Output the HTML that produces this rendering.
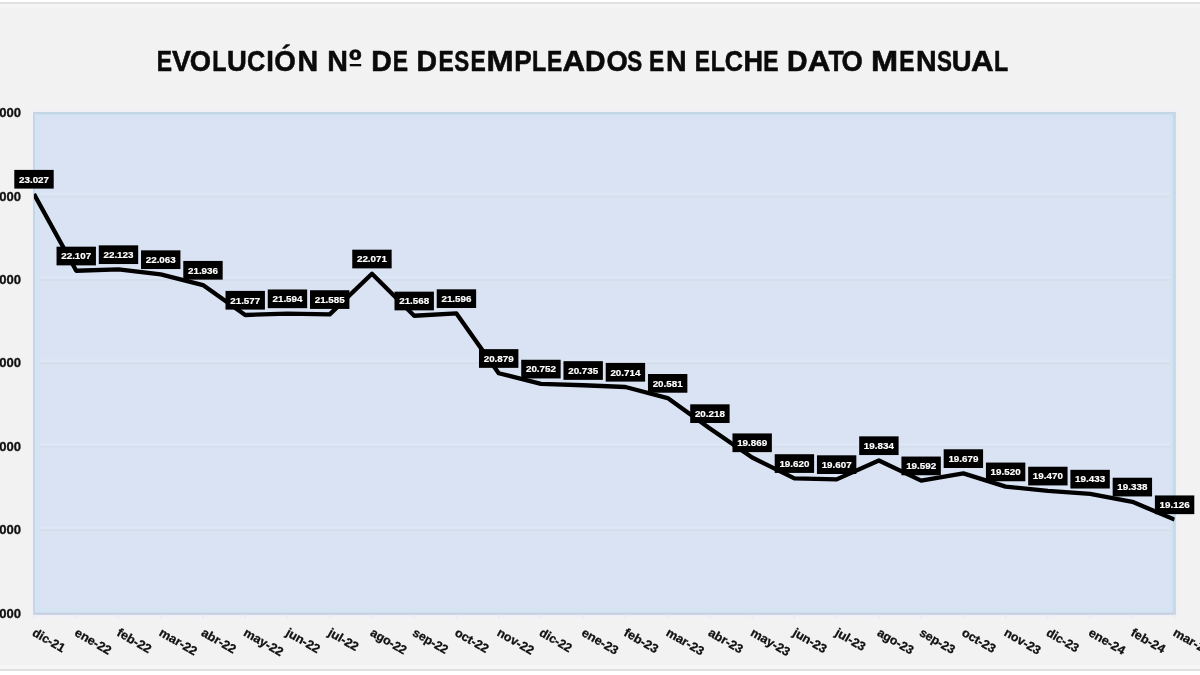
<!DOCTYPE html>
<html lang="es"><head><meta charset="utf-8"><title>Evolución nº de desempleados en Elche</title>
<style>
html,body{margin:0;padding:0;background:#fff;}
body{width:1200px;height:675px;overflow:hidden;font-family:"Liberation Sans",sans-serif;}
svg{display:block}
text{font-family:"Liberation Sans",sans-serif;font-weight:bold}
.t{font-size:30.3px;fill:#0a0a0a;stroke:#0a0a0a;stroke-width:0.6px}
.y{font-size:12.3px;fill:#111;stroke:#111;stroke-width:0.3px}
.x{font-size:12.2px;fill:#111;stroke:#111;stroke-width:0.3px}
.d{font-size:9.8px;fill:#fff;stroke:#fff;stroke-width:0.2px}
</style></head><body>
<svg width="1200" height="675" viewBox="0 0 1200 675" role="img" aria-labelledby="chart-title">
<title id="chart-title">EVOLUCIÓN Nº DE DESEMPLEADOS EN ELCHE DATO MENSUAL</title>
<rect x="0" y="0" width="1200" height="675" fill="#ffffff"/>
<rect x="0" y="2" width="1200" height="669" fill="#f2f2f2"/>
<rect x="0" y="2" width="1200" height="2" fill="#e1e1e1"/>
<rect x="0" y="4" width="1200" height="2" fill="#f6f6f6"/>
<rect x="0" y="6" width="1200" height="2" fill="#f4f4f4"/>
<rect x="0" y="665" width="1200" height="4" fill="#f6f6f6"/>
<rect x="0" y="669" width="1200" height="2" fill="#dfdfdf"/>

<rect x="31" y="109.5" width="1147" height="507.5" fill="#eff1f7"/>
<rect x="33" y="112" width="1142.8" height="502.8" fill="#dae3f3"/>
<rect x="33" y="114.2" width="1142.8" height="3.2" fill="#d5e4f3"/>
<rect x="33" y="608.2" width="1142.8" height="4.6" fill="#d4e4f3"/>
<rect x="35" y="112" width="4.6" height="502.8" fill="#d5e3f3"/>
<rect x="1169.8" y="112" width="3.2" height="502.8" fill="#d3e3f2"/>
<rect x="33" y="112" width="1142.8" height="2.4" fill="#c4d6e5"/>
<rect x="33" y="612.6" width="1142.8" height="2.2" fill="#c9d0e1"/>
<rect x="33" y="112" width="2" height="502.8" fill="#c5d6e8"/>
<rect x="1172.9" y="112" width="2.9" height="502.8" fill="#c6d9e6"/>
<rect x="39.6" y="526.45" width="1130.2" height="3" fill="#dde6f5"/>
<rect x="39.6" y="530.95" width="1130.2" height="6" fill="#d9e3f1"/>
<rect x="39.6" y="529.35" width="1130.2" height="1.6" fill="#d3ddec"/>
<rect x="39.6" y="443.00" width="1130.2" height="3" fill="#dde6f5"/>
<rect x="39.6" y="447.50" width="1130.2" height="6" fill="#d9e3f1"/>
<rect x="39.6" y="445.90" width="1130.2" height="1.6" fill="#d3ddec"/>
<rect x="39.6" y="359.55" width="1130.2" height="3" fill="#dde6f5"/>
<rect x="39.6" y="364.05" width="1130.2" height="6" fill="#d9e3f1"/>
<rect x="39.6" y="362.45" width="1130.2" height="1.6" fill="#d3ddec"/>
<rect x="39.6" y="276.10" width="1130.2" height="3" fill="#dde6f5"/>
<rect x="39.6" y="280.60" width="1130.2" height="6" fill="#d9e3f1"/>
<rect x="39.6" y="279.00" width="1130.2" height="1.6" fill="#d3ddec"/>
<rect x="39.6" y="192.65" width="1130.2" height="3" fill="#dde6f5"/>
<rect x="39.6" y="197.15" width="1130.2" height="6" fill="#d9e3f1"/>
<rect x="39.6" y="195.55" width="1130.2" height="1.6" fill="#d3ddec"/>
<line x1="34.00" x2="34.00" y1="614.5" y2="618.5" stroke="#e6eaf0" stroke-width="1.3"/>
<line x1="76.24" x2="76.24" y1="614.5" y2="618.5" stroke="#e6eaf0" stroke-width="1.3"/>
<line x1="118.49" x2="118.49" y1="614.5" y2="618.5" stroke="#e6eaf0" stroke-width="1.3"/>
<line x1="160.73" x2="160.73" y1="614.5" y2="618.5" stroke="#e6eaf0" stroke-width="1.3"/>
<line x1="202.98" x2="202.98" y1="614.5" y2="618.5" stroke="#e6eaf0" stroke-width="1.3"/>
<line x1="245.22" x2="245.22" y1="614.5" y2="618.5" stroke="#e6eaf0" stroke-width="1.3"/>
<line x1="287.47" x2="287.47" y1="614.5" y2="618.5" stroke="#e6eaf0" stroke-width="1.3"/>
<line x1="329.71" x2="329.71" y1="614.5" y2="618.5" stroke="#e6eaf0" stroke-width="1.3"/>
<line x1="371.96" x2="371.96" y1="614.5" y2="618.5" stroke="#e6eaf0" stroke-width="1.3"/>
<line x1="414.20" x2="414.20" y1="614.5" y2="618.5" stroke="#e6eaf0" stroke-width="1.3"/>
<line x1="456.44" x2="456.44" y1="614.5" y2="618.5" stroke="#e6eaf0" stroke-width="1.3"/>
<line x1="498.69" x2="498.69" y1="614.5" y2="618.5" stroke="#e6eaf0" stroke-width="1.3"/>
<line x1="540.93" x2="540.93" y1="614.5" y2="618.5" stroke="#e6eaf0" stroke-width="1.3"/>
<line x1="583.18" x2="583.18" y1="614.5" y2="618.5" stroke="#e6eaf0" stroke-width="1.3"/>
<line x1="625.42" x2="625.42" y1="614.5" y2="618.5" stroke="#e6eaf0" stroke-width="1.3"/>
<line x1="667.67" x2="667.67" y1="614.5" y2="618.5" stroke="#e6eaf0" stroke-width="1.3"/>
<line x1="709.91" x2="709.91" y1="614.5" y2="618.5" stroke="#e6eaf0" stroke-width="1.3"/>
<line x1="752.16" x2="752.16" y1="614.5" y2="618.5" stroke="#e6eaf0" stroke-width="1.3"/>
<line x1="794.40" x2="794.40" y1="614.5" y2="618.5" stroke="#e6eaf0" stroke-width="1.3"/>
<line x1="836.64" x2="836.64" y1="614.5" y2="618.5" stroke="#e6eaf0" stroke-width="1.3"/>
<line x1="878.89" x2="878.89" y1="614.5" y2="618.5" stroke="#e6eaf0" stroke-width="1.3"/>
<line x1="921.13" x2="921.13" y1="614.5" y2="618.5" stroke="#e6eaf0" stroke-width="1.3"/>
<line x1="963.38" x2="963.38" y1="614.5" y2="618.5" stroke="#e6eaf0" stroke-width="1.3"/>
<line x1="1005.62" x2="1005.62" y1="614.5" y2="618.5" stroke="#e6eaf0" stroke-width="1.3"/>
<line x1="1047.87" x2="1047.87" y1="614.5" y2="618.5" stroke="#e6eaf0" stroke-width="1.3"/>
<line x1="1090.11" x2="1090.11" y1="614.5" y2="618.5" stroke="#e6eaf0" stroke-width="1.3"/>
<line x1="1132.36" x2="1132.36" y1="614.5" y2="618.5" stroke="#e6eaf0" stroke-width="1.3"/>
<line x1="1174.60" x2="1174.60" y1="614.5" y2="618.5" stroke="#e6eaf0" stroke-width="1.3"/>
<text class="t" y="71.2" aria-label="EVOLUCIÓN Nº DE DESEMPLEADOS EN ELCHE DATO MENSUAL"><tspan x="156.68" textLength="15.27" lengthAdjust="spacingAndGlyphs">E</tspan><tspan x="171.92" textLength="18.86" lengthAdjust="spacingAndGlyphs">V</tspan><tspan x="189.75" textLength="21.26" lengthAdjust="spacingAndGlyphs">O</tspan><tspan x="212.32" textLength="14.22" lengthAdjust="spacingAndGlyphs">L</tspan><tspan x="227.08" textLength="19.82" lengthAdjust="spacingAndGlyphs">U</tspan><tspan x="247.04" textLength="18.27" lengthAdjust="spacingAndGlyphs">C</tspan><tspan x="266.2" textLength="7.62" lengthAdjust="spacingAndGlyphs">I</tspan><tspan x="274.27" textLength="21.53" lengthAdjust="spacingAndGlyphs">Ó</tspan><tspan x="297.56" textLength="20.66" lengthAdjust="spacingAndGlyphs">N</tspan> <tspan x="327.36" textLength="20.66" lengthAdjust="spacingAndGlyphs">N</tspan><tspan x="348.97" textLength="12.51" lengthAdjust="spacingAndGlyphs">º</tspan> <tspan x="371.35" textLength="20.53" lengthAdjust="spacingAndGlyphs">D</tspan><tspan x="392.73" textLength="15.27" lengthAdjust="spacingAndGlyphs">E</tspan> <tspan x="416.5" textLength="20.53" lengthAdjust="spacingAndGlyphs">D</tspan><tspan x="438.53" textLength="15.27" lengthAdjust="spacingAndGlyphs">E</tspan><tspan x="454.35" textLength="14.93" lengthAdjust="spacingAndGlyphs">S</tspan><tspan x="470.38" textLength="15.27" lengthAdjust="spacingAndGlyphs">E</tspan><tspan x="486.4" textLength="27.13" lengthAdjust="spacingAndGlyphs">M</tspan><tspan x="514.22" textLength="17.41" lengthAdjust="spacingAndGlyphs">P</tspan><tspan x="532.12" textLength="14.22" lengthAdjust="spacingAndGlyphs">L</tspan><tspan x="547.03" textLength="15.27" lengthAdjust="spacingAndGlyphs">E</tspan><tspan x="562.58" textLength="22.63" lengthAdjust="spacingAndGlyphs">A</tspan><tspan x="585.05" textLength="20.53" lengthAdjust="spacingAndGlyphs">D</tspan><tspan x="606.4" textLength="21.26" lengthAdjust="spacingAndGlyphs">O</tspan><tspan x="627.35" textLength="14.93" lengthAdjust="spacingAndGlyphs">S</tspan> <tspan x="649.03" textLength="15.27" lengthAdjust="spacingAndGlyphs">E</tspan><tspan x="666.01" textLength="20.66" lengthAdjust="spacingAndGlyphs">N</tspan> <tspan x="694.73" textLength="15.27" lengthAdjust="spacingAndGlyphs">E</tspan><tspan x="710.82" textLength="14.22" lengthAdjust="spacingAndGlyphs">L</tspan><tspan x="724.69" textLength="18.27" lengthAdjust="spacingAndGlyphs">C</tspan><tspan x="743.52" textLength="19.54" lengthAdjust="spacingAndGlyphs">H</tspan><tspan x="763.33" textLength="15.27" lengthAdjust="spacingAndGlyphs">E</tspan> <tspan x="787.05" textLength="20.53" lengthAdjust="spacingAndGlyphs">D</tspan><tspan x="807.73" textLength="22.63" lengthAdjust="spacingAndGlyphs">A</tspan><tspan x="828.6" textLength="15.11" lengthAdjust="spacingAndGlyphs">T</tspan><tspan x="841.4" textLength="21.26" lengthAdjust="spacingAndGlyphs">O</tspan> <tspan x="871.1" textLength="27.13" lengthAdjust="spacingAndGlyphs">M</tspan><tspan x="899.33" textLength="15.27" lengthAdjust="spacingAndGlyphs">E</tspan><tspan x="916.01" textLength="20.66" lengthAdjust="spacingAndGlyphs">N</tspan><tspan x="937.0" textLength="14.93" lengthAdjust="spacingAndGlyphs">S</tspan><tspan x="951.73" textLength="19.82" lengthAdjust="spacingAndGlyphs">U</tspan><tspan x="971.03" textLength="22.63" lengthAdjust="spacingAndGlyphs">A</tspan><tspan x="994.12" textLength="14.22" lengthAdjust="spacingAndGlyphs">L</tspan></text>
<rect x="349.8" y="64" width="11.4" height="2.3" fill="#0a0a0a"/>
<text class="y" x="21.1" y="617.80" text-anchor="end" textLength="40" lengthAdjust="spacingAndGlyphs">18.000</text>
<text class="y" x="21.1" y="534.35" text-anchor="end" textLength="40" lengthAdjust="spacingAndGlyphs">19.000</text>
<text class="y" x="21.1" y="450.90" text-anchor="end" textLength="40" lengthAdjust="spacingAndGlyphs">20.000</text>
<text class="y" x="21.1" y="367.45" text-anchor="end" textLength="40" lengthAdjust="spacingAndGlyphs">21.000</text>
<text class="y" x="21.1" y="284.00" text-anchor="end" textLength="40" lengthAdjust="spacingAndGlyphs">22.000</text>
<text class="y" x="21.1" y="200.55" text-anchor="end" textLength="40" lengthAdjust="spacingAndGlyphs">23.000</text>
<text class="y" x="21.1" y="117.10" text-anchor="end" textLength="40" lengthAdjust="spacingAndGlyphs">24.000</text>
<clipPath id="pc"><rect x="33.9" y="100" width="1140.8" height="530"/></clipPath>
<polyline clip-path="url(#pc)" points="34.00,194.00 76.24,270.77 118.49,269.44 160.73,274.44 202.98,285.04 245.22,315.00 287.47,313.58 329.71,314.33 371.96,273.78 414.20,315.75 456.44,313.41 498.69,373.25 540.93,383.85 583.18,385.26 625.42,387.02 667.67,398.12 709.91,428.41 752.16,457.53 794.40,478.31 836.64,479.40 878.89,460.45 921.13,480.65 963.38,473.39 1005.62,486.66 1047.87,490.83 1090.11,493.92 1132.36,501.84 1174.60,519.54" fill="none" stroke="#000" stroke-width="4.3" stroke-linejoin="round" stroke-linecap="butt"/>
<rect x="14.30" y="169.90" width="39.4" height="18.7" fill="#000"/>
<text class="d" x="34.00" y="182.50" text-anchor="middle" textLength="30" lengthAdjust="spacingAndGlyphs">23.027</text>
<rect x="56.54" y="246.67" width="39.4" height="18.7" fill="#000"/>
<text class="d" x="76.24" y="259.27" text-anchor="middle" textLength="30" lengthAdjust="spacingAndGlyphs">22.107</text>
<rect x="98.79" y="245.34" width="39.4" height="18.7" fill="#000"/>
<text class="d" x="118.49" y="257.94" text-anchor="middle" textLength="30" lengthAdjust="spacingAndGlyphs">22.123</text>
<rect x="141.03" y="250.34" width="39.4" height="18.7" fill="#000"/>
<text class="d" x="160.73" y="262.94" text-anchor="middle" textLength="30" lengthAdjust="spacingAndGlyphs">22.063</text>
<rect x="183.28" y="260.94" width="39.4" height="18.7" fill="#000"/>
<text class="d" x="202.98" y="273.54" text-anchor="middle" textLength="30" lengthAdjust="spacingAndGlyphs">21.936</text>
<rect x="225.52" y="290.90" width="39.4" height="18.7" fill="#000"/>
<text class="d" x="245.22" y="303.50" text-anchor="middle" textLength="30" lengthAdjust="spacingAndGlyphs">21.577</text>
<rect x="267.77" y="289.48" width="39.4" height="18.7" fill="#000"/>
<text class="d" x="287.47" y="302.08" text-anchor="middle" textLength="30" lengthAdjust="spacingAndGlyphs">21.594</text>
<rect x="310.01" y="290.23" width="39.4" height="18.7" fill="#000"/>
<text class="d" x="329.71" y="302.83" text-anchor="middle" textLength="30" lengthAdjust="spacingAndGlyphs">21.585</text>
<rect x="352.26" y="249.68" width="39.4" height="18.7" fill="#000"/>
<text class="d" x="371.96" y="262.28" text-anchor="middle" textLength="30" lengthAdjust="spacingAndGlyphs">22.071</text>
<rect x="394.50" y="291.65" width="39.4" height="18.7" fill="#000"/>
<text class="d" x="414.20" y="304.25" text-anchor="middle" textLength="30" lengthAdjust="spacingAndGlyphs">21.568</text>
<rect x="436.74" y="289.31" width="39.4" height="18.7" fill="#000"/>
<text class="d" x="456.44" y="301.91" text-anchor="middle" textLength="30" lengthAdjust="spacingAndGlyphs">21.596</text>
<rect x="478.99" y="349.15" width="39.4" height="18.7" fill="#000"/>
<text class="d" x="498.69" y="361.75" text-anchor="middle" textLength="30" lengthAdjust="spacingAndGlyphs">20.879</text>
<rect x="521.23" y="359.75" width="39.4" height="18.7" fill="#000"/>
<text class="d" x="540.93" y="372.35" text-anchor="middle" textLength="30" lengthAdjust="spacingAndGlyphs">20.752</text>
<rect x="563.48" y="361.16" width="39.4" height="18.7" fill="#000"/>
<text class="d" x="583.18" y="373.76" text-anchor="middle" textLength="30" lengthAdjust="spacingAndGlyphs">20.735</text>
<rect x="605.72" y="362.92" width="39.4" height="18.7" fill="#000"/>
<text class="d" x="625.42" y="375.52" text-anchor="middle" textLength="30" lengthAdjust="spacingAndGlyphs">20.714</text>
<rect x="647.97" y="374.02" width="39.4" height="18.7" fill="#000"/>
<text class="d" x="667.67" y="386.62" text-anchor="middle" textLength="30" lengthAdjust="spacingAndGlyphs">20.581</text>
<rect x="690.21" y="404.31" width="39.4" height="18.7" fill="#000"/>
<text class="d" x="709.91" y="416.91" text-anchor="middle" textLength="30" lengthAdjust="spacingAndGlyphs">20.218</text>
<rect x="732.46" y="433.43" width="39.4" height="18.7" fill="#000"/>
<text class="d" x="752.16" y="446.03" text-anchor="middle" textLength="30" lengthAdjust="spacingAndGlyphs">19.869</text>
<rect x="774.70" y="454.21" width="39.4" height="18.7" fill="#000"/>
<text class="d" x="794.40" y="466.81" text-anchor="middle" textLength="30" lengthAdjust="spacingAndGlyphs">19.620</text>
<rect x="816.94" y="455.30" width="39.4" height="18.7" fill="#000"/>
<text class="d" x="836.64" y="467.90" text-anchor="middle" textLength="30" lengthAdjust="spacingAndGlyphs">19.607</text>
<rect x="859.19" y="436.35" width="39.4" height="18.7" fill="#000"/>
<text class="d" x="878.89" y="448.95" text-anchor="middle" textLength="30" lengthAdjust="spacingAndGlyphs">19.834</text>
<rect x="901.43" y="456.55" width="39.4" height="18.7" fill="#000"/>
<text class="d" x="921.13" y="469.15" text-anchor="middle" textLength="30" lengthAdjust="spacingAndGlyphs">19.592</text>
<rect x="943.68" y="449.29" width="39.4" height="18.7" fill="#000"/>
<text class="d" x="963.38" y="461.89" text-anchor="middle" textLength="30" lengthAdjust="spacingAndGlyphs">19.679</text>
<rect x="985.92" y="462.56" width="39.4" height="18.7" fill="#000"/>
<text class="d" x="1005.62" y="475.16" text-anchor="middle" textLength="30" lengthAdjust="spacingAndGlyphs">19.520</text>
<rect x="1028.17" y="466.73" width="39.4" height="18.7" fill="#000"/>
<text class="d" x="1047.87" y="479.33" text-anchor="middle" textLength="30" lengthAdjust="spacingAndGlyphs">19.470</text>
<rect x="1070.41" y="469.82" width="39.4" height="18.7" fill="#000"/>
<text class="d" x="1090.11" y="482.42" text-anchor="middle" textLength="30" lengthAdjust="spacingAndGlyphs">19.433</text>
<rect x="1112.66" y="477.74" width="39.4" height="18.7" fill="#000"/>
<text class="d" x="1132.36" y="490.34" text-anchor="middle" textLength="30" lengthAdjust="spacingAndGlyphs">19.338</text>
<rect x="1154.90" y="495.44" width="39.4" height="18.7" fill="#000"/>
<text class="d" x="1174.60" y="508.04" text-anchor="middle" textLength="30" lengthAdjust="spacingAndGlyphs">19.126</text>
<text class="x" transform="translate(31.60,635.0) rotate(30)" x="0" y="0" textLength="35.11" lengthAdjust="spacingAndGlyphs">dic-21</text>
<text class="x" transform="translate(73.84,635.0) rotate(30)" x="0" y="0" textLength="39.88" lengthAdjust="spacingAndGlyphs">ene-22</text>
<text class="x" transform="translate(116.09,635.0) rotate(30)" x="0" y="0" textLength="37.28" lengthAdjust="spacingAndGlyphs">feb-22</text>
<text class="x" transform="translate(158.33,635.0) rotate(30)" x="0" y="0" textLength="41.42" lengthAdjust="spacingAndGlyphs">mar-22</text>
<text class="x" transform="translate(200.58,635.0) rotate(30)" x="0" y="0" textLength="37.59" lengthAdjust="spacingAndGlyphs">abr-22</text>
<text class="x" transform="translate(242.82,635.0) rotate(30)" x="0" y="0" textLength="43.18" lengthAdjust="spacingAndGlyphs">may-22</text>
<text class="x" transform="translate(285.07,635.0) rotate(30)" x="0" y="0" textLength="36.78" lengthAdjust="spacingAndGlyphs">jun-22</text>
<text class="x" transform="translate(327.31,635.0) rotate(30)" x="0" y="0" textLength="32.72" lengthAdjust="spacingAndGlyphs">jul-22</text>
<text class="x" transform="translate(369.56,635.0) rotate(30)" x="0" y="0" textLength="39.36" lengthAdjust="spacingAndGlyphs">ago-22</text>
<text class="x" transform="translate(411.80,635.0) rotate(30)" x="0" y="0" textLength="38.44" lengthAdjust="spacingAndGlyphs">sep-22</text>
<text class="x" transform="translate(454.04,635.0) rotate(30)" x="0" y="0" textLength="36.53" lengthAdjust="spacingAndGlyphs">oct-22</text>
<text class="x" transform="translate(496.29,635.0) rotate(30)" x="0" y="0" textLength="39.95" lengthAdjust="spacingAndGlyphs">nov-22</text>
<text class="x" transform="translate(538.53,635.0) rotate(30)" x="0" y="0" textLength="35.11" lengthAdjust="spacingAndGlyphs">dic-22</text>
<text class="x" transform="translate(580.78,635.0) rotate(30)" x="0" y="0" textLength="39.88" lengthAdjust="spacingAndGlyphs">ene-23</text>
<text class="x" transform="translate(623.02,635.0) rotate(30)" x="0" y="0" textLength="37.28" lengthAdjust="spacingAndGlyphs">feb-23</text>
<text class="x" transform="translate(665.27,635.0) rotate(30)" x="0" y="0" textLength="41.42" lengthAdjust="spacingAndGlyphs">mar-23</text>
<text class="x" transform="translate(707.51,635.0) rotate(30)" x="0" y="0" textLength="37.59" lengthAdjust="spacingAndGlyphs">abr-23</text>
<text class="x" transform="translate(749.76,635.0) rotate(30)" x="0" y="0" textLength="43.18" lengthAdjust="spacingAndGlyphs">may-23</text>
<text class="x" transform="translate(792.00,635.0) rotate(30)" x="0" y="0" textLength="36.78" lengthAdjust="spacingAndGlyphs">jun-23</text>
<text class="x" transform="translate(834.24,635.0) rotate(30)" x="0" y="0" textLength="32.72" lengthAdjust="spacingAndGlyphs">jul-23</text>
<text class="x" transform="translate(876.49,635.0) rotate(30)" x="0" y="0" textLength="39.36" lengthAdjust="spacingAndGlyphs">ago-23</text>
<text class="x" transform="translate(918.73,635.0) rotate(30)" x="0" y="0" textLength="38.44" lengthAdjust="spacingAndGlyphs">sep-23</text>
<text class="x" transform="translate(960.98,635.0) rotate(30)" x="0" y="0" textLength="36.53" lengthAdjust="spacingAndGlyphs">oct-23</text>
<text class="x" transform="translate(1003.22,635.0) rotate(30)" x="0" y="0" textLength="39.95" lengthAdjust="spacingAndGlyphs">nov-23</text>
<text class="x" transform="translate(1045.47,635.0) rotate(30)" x="0" y="0" textLength="35.11" lengthAdjust="spacingAndGlyphs">dic-23</text>
<text class="x" transform="translate(1087.71,635.0) rotate(30)" x="0" y="0" textLength="39.88" lengthAdjust="spacingAndGlyphs">ene-24</text>
<text class="x" transform="translate(1129.96,635.0) rotate(30)" x="0" y="0" textLength="37.28" lengthAdjust="spacingAndGlyphs">feb-24</text>
<text class="x" transform="translate(1172.20,635.0) rotate(30)" x="0" y="0" textLength="41.42" lengthAdjust="spacingAndGlyphs">mar-24</text>
</svg></body></html>
